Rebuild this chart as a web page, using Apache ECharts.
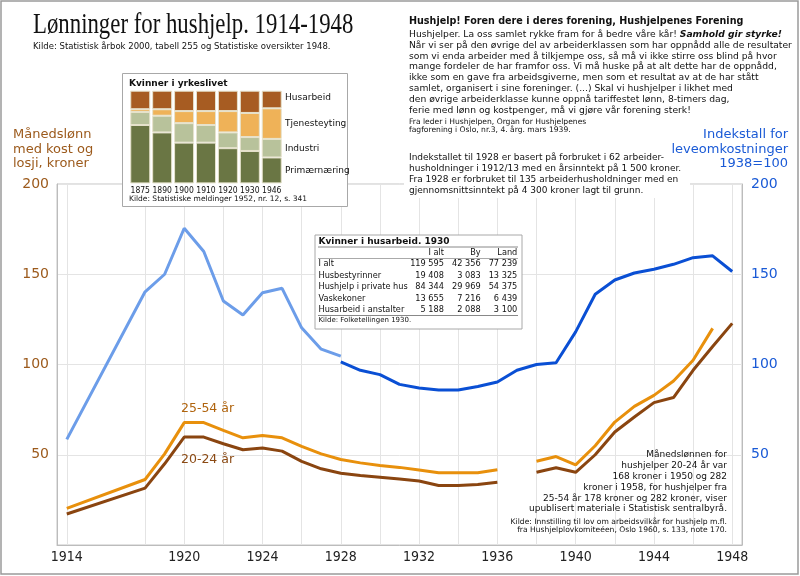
<!DOCTYPE html>
<html><head><meta charset="utf-8">
<script src="https://cdn.jsdelivr.net/npm/echarts@6/dist/echarts.min.js"></script>
<style>html,body{margin:0;padding:0;background:#fff}#c{width:800px;height:576px}</style>
</head><body><div id="c"></div>
<script>
// ---- Data ----
const idxYearsA = [1914,1918,1919,1920,1921,1922,1923,1924,1925,1926,1927,1928];
const idxValsA  = [58.5,140.3,150,175.5,162.6,135.2,127.4,139.8,142.2,120.3,108.5,104.6];
const idxYearsB = [1928,1929,1930,1931,1932,1933,1934,1935,1936,1937,1938,1939,1940,1941,1942,1943,1944,1945,1946,1947,1948];
const idxValsB  = [101.5,96.8,94.4,89,87,85.9,85.9,87.8,90.3,96.8,100,101,118.1,138.9,146.8,150.7,152.8,155.5,159.2,160.2,151.5];
const wageYears = [1914,1918,1919,1920,1921,1922,1923,1924,1925,1926,1927,1928,1929,1930,1931,1932,1933,1934,1935,1936,1937,1938,1939,1940,1941,1942,1943,1944,1945,1946,1947,1948];
const wage2554  = [20.3,36.3,50.5,67.8,67.8,63.5,59.4,60.7,59.4,54.6,50.5,47.4,45.5,44,43,41.5,40,40,40,41.7,null,46.4,49,44.4,55,68.1,76.8,82.9,90.9,102.4,120,null];
const wage2024  = [17.2,31.5,45,59.8,59.8,56.1,52.8,53.7,52,46.3,42.2,39.8,38.5,37.5,36.5,35.5,33,33,33.5,34.8,null,40.3,42.8,40.3,50,62.6,70.9,78.9,81.7,96.8,110,122.8];
const xLabelYears = [1914,1920,1924,1928,1932,1936,1940,1944,1948];
const xGridYears  = [1914,1918,1920,1922,1924,1926,1928,1930,1932,1934,1936,1938,1940,1942,1944,1946,1948];

const workYears = ['1875','1890','1900','1910','1920','1930','1946'];
const primaer   = [63,55,44,44,38,35,28];
const industri  = [14,18,21,19,17,15,20];
const tjeneste  = [3,7,13,15,23,26,33];
const husarbeid = [20,20,22,22,22,24,19];
const workCats  = ['Husarbeid','Tjenesteyting','Industri','Primærnæring'];

const tableHead = ['I alt','By','Land'];
const tableRows = [
  ['I alt',119595,42356,77239],
  ['Husbestyrinner',19408,3083,13325],
  ['Hushjelp i private hus',84344,29969,54375],
  ['Vaskekoner',13655,7216,6439],
  ['Husarbeid i anstalter',5188,2088,3100]
];

const pairs = (xs, vs) => xs.map((x,i)=>[x, vs[i]]);
const fmt = n => String(n).replace(/\B(?=(\d{3})+(?!\d))/g, ' ');

const BROWN_T = '#9c5a1c', BLUE_T = '#1a5ad6';
const SANS = '"DejaVu Sans"';

function T(x, y, text, font, fill, align, z, sx) {
  return { type:'text', z: z||12, x, y, scaleX: sx||1, style:{ x:0, y:0, text, font, fill: fill||'#111',
    align: align||'left', textAlign: align||'left', verticalAlign:'middle', textVerticalAlign:'middle' } };
}
function L(x1,y1,x2,y2,color,z){ return {type:'line', z:z||12, shape:{x1,y1,x2,y2}, style:{stroke:color||'#999', lineWidth:1}}; }

const g = [];
g.push({type:'rect', z:1, shape:{x:1,y:1,width:797,height:573}, style:{fill:'none', stroke:'#9a9a9a', lineWidth:1.5}});
g.push(T(33, 25, 'Lønninger for hushjelp. 1914-1948', '30px "Liberation Serif"', '#111', 'left', 12, 0.76));
g.push(T(33, 47, 'Kilde: Statistisk årbok 2000, tabell 255 og Statistiske oversikter 1948.', '8.5px '+SANS, '#111'));
g.push(T(409, 21.5, 'Hushjelp! Foren dere i deres forening, Hushjelpenes Forening', 'bold 9.6px '+SANS, '#111'));
g.push({type:'text', z:12, style:{x:409, y:34.3, text:'{n|Hushjelper. La oss samlet rykke fram for å bedre våre kår! }{b|Samhold gir styrke!}',
  verticalAlign:'middle', textVerticalAlign:'middle', rich:{ n:{font:'9.2px '+SANS, fill:'#111'}, b:{font:'italic bold 9.2px '+SANS, fill:'#111'} } }});
const quote = [
 'Når vi ser på den øvrige del av arbeiderklassen som har oppnådd alle de resultater',
 'som vi enda arbeider med å tilkjempe oss, så må vi ikke stirre oss blind på hvor',
 'mange fordeler de har framfor oss. Vi må huske på at alt dette har de oppnådd,',
 'ikke som en gave fra arbeidsgiverne, men som et resultat av at de har stått',
 'samlet, organisert i sine foreninger. (...) Skal vi hushjelper i likhet med',
 'den øvrige arbeiderklasse kunne oppnå tariffestet lønn, 8-timers dag,',
 'ferie med lønn og kostpenger, må vi gjøre vår forening sterk!'
];
quote.forEach((s,i)=>g.push(T(409, 45.5+i*10.8, s, '9.2px '+SANS)));
g.push(T(409, 121.7, 'Fra leder i Hushjelpen, Organ for Hushjelpenes', '7.6px '+SANS));
g.push(T(409, 130.5, 'fagforening i Oslo, nr.3, 4. årg. mars 1939.', '7.6px '+SANS));
g.push({type:'rect', z:11, shape:{x:404,y:150,width:286,height:48}, style:{fill:'#fff'}});
const idxNote = [
 'Indekstallet til 1928 er basert på forbruket i 62 arbeider-',
 'husholdninger i 1912/13 med en årsinntekt på 1 500 kroner.',
 'Fra 1928 er forbruket til 135 arbeiderhusholdninger med en',
 'gjennomsnittsinntekt på 4 300 kroner lagt til grunn.'
];
idxNote.forEach((s,i)=>g.push(T(409, 158+i*11, s, '9px '+SANS)));
['Indekstall for','leveomkostninger','1938=100'].forEach((s,i)=>g.push(T(788, 135+i*14.3, s, '13px '+SANS, BLUE_T, 'right')));
['Månedslønn','med kost og','losji, kroner'].forEach((s,i)=>g.push(T(13, 135+i*14.3, s, '13px '+SANS, BROWN_T, 'left')));
g.push(T(181, 409, '25-54 år', '12.5px '+SANS, '#b0640e'));
g.push(T(181, 460, '20-24 år', '12.5px '+SANS, '#8b4a14'));
const note2 = ['Månedslønnen for','hushjelper 20-24 år var','168 kroner i 1950 og 282','kroner i 1958, for hushjelper fra','25-54 år 178 kroner og 282 kroner, viser','upublisert materiale i Statistisk sentralbyrå.'];
note2.forEach((s,i)=>g.push(T(727, 455+i*10.8, s, '9px '+SANS, '#111', 'right')));
g.push(T(727, 521.7, 'Kilde: Innstilling til lov om arbeidsvilkår for hushjelp m.fl.', '7.6px '+SANS, '#111', 'right'));
g.push(T(727, 530.5, 'fra Hushjelplovkomiteéen, Oslo 1960, s. 133, note 170.', '7.6px '+SANS, '#111', 'right'));
g.push({type:'rect', z:10, shape:{x:122.5,y:73.5,width:225,height:133}, style:{fill:'#fff', stroke:'#a8a8a8', lineWidth:1}});
g.push(T(129, 83.5, 'Kvinner i yrkeslivet', 'bold 9px '+SANS));
[97.7,123.3,149,171].forEach((y,i)=>g.push(T(285, y, workCats[i], '9px '+SANS)));
g.push(T(129, 199.5, 'Kilde: Statistiske meldinger 1952, nr. 12, s. 341', '7.5px '+SANS));
g.push({type:'rect', z:10, shape:{x:315,y:235,width:207,height:94}, style:{fill:'#fff', stroke:'#a8a8a8', lineWidth:1}});
g.push(T(318.5, 242, 'Kvinner i husarbeid. 1930', 'bold 9px '+SANS));
g.push(L(318,247,518,247,'#888'));
const colX = [444,480.7,517.3];
const TF = '8.2px '+SANS;
tableHead.forEach((h,i)=>g.push(T(colX[i], 253.3, h, TF, '#111', 'right')));
g.push(L(318,258.5,518,258.5,'#aaa'));
tableRows.forEach((r,j)=>{
  const y = 264 + j*11.5;
  g.push(T(318.5, y, r[0], TF));
  for (let i=1;i<4;i++) g.push(T(colX[i-1], y, fmt(r[i]), TF, '#111', 'right'));
});
g.push(L(318,315.5,518,315.5,'#888'));
g.push(T(318.5, 320.5, 'Kilde: Folketellingen 1930.', '7px '+SANS));

const chart = echarts.init(document.getElementById('c'), null, {renderer:'canvas'});
const barItem = c => ({color:c, borderColor:'#e6e2cc', borderWidth:1});
chart.setOption({
  animation:false,
  backgroundColor:'#fff',
  textStyle:{fontFamily:'DejaVu Sans'},
  grid:[
    {left:57, right:58, top:184, bottom:31, show:true, borderColor:'#c4c4c4', borderWidth:1, backgroundColor:'transparent'},
    {left:129.3, top:90.7, width:153.4, height:92.7, z:30}
  ],
  xAxis:[
    {type:'value', gridIndex:0, min:1913.5, max:1948.5,
     axisLine:{show:true, lineStyle:{color:'#bcbcbc'}},
     axisTick:{show:false, customValues:xGridYears},
     axisLabel:{customValues:xLabelYears, formatter:v=>String(v), color:'#222', fontSize:14, fontFamily:'DejaVu Sans Condensed', margin:5},
     splitLine:{show:true, lineStyle:{color:'#e4e4e4', width:1}}},
    {type:'category', gridIndex:1, data:workYears, z:30,
     axisLine:{show:false}, axisTick:{show:false},
     axisLabel:{interval:0, color:'#111', fontSize:8.5, margin:3, fontFamily:'DejaVu Sans Condensed'}}
  ],
  yAxis:[
    {type:'value', gridIndex:0, min:0, max:200, interval:50, position:'left',
     axisLine:{show:true, lineStyle:{color:'#bcbcbc'}}, axisTick:{show:false},
     axisLabel:{color:BROWN_T, fontSize:14, margin:8, showMinLabel:false},
     splitLine:{show:true, lineStyle:{color:'#e4e4e4'}}},
    {type:'value', gridIndex:0, min:0, max:200, interval:50, position:'right',
     axisLine:{show:true, lineStyle:{color:'#bcbcbc'}}, axisTick:{show:false},
     axisLabel:{color:BLUE_T, fontSize:14, margin:9, showMinLabel:false},
     splitLine:{show:false}},
    {type:'value', gridIndex:1, min:0, max:100, show:false}
  ],
  series:[
    {type:'line', xAxisIndex:0, yAxisIndex:1, data:pairs(idxYearsA, idxValsA), symbol:'none', z:3,
     lineStyle:{color:'#6c9de9', width:3}},
    {type:'line', xAxisIndex:0, yAxisIndex:1, data:pairs(idxYearsB, idxValsB), symbol:'none', z:3,
     lineStyle:{color:'#0a4fd4', width:3}},
    {type:'line', xAxisIndex:0, yAxisIndex:0, data:pairs(wageYears, wage2554), symbol:'none', connectNulls:false, z:3,
     lineStyle:{color:'#e8900c', width:3}},
    {type:'line', xAxisIndex:0, yAxisIndex:0, data:pairs(wageYears, wage2024), symbol:'none', connectNulls:false, z:3,
     lineStyle:{color:'#8a4510', width:3}},
    {type:'bar', xAxisIndex:1, yAxisIndex:2, stack:'w', barWidth:20, z:30, data:primaer, itemStyle:barItem('#6a7644')},
    {type:'bar', xAxisIndex:1, yAxisIndex:2, stack:'w', barWidth:20, z:30, data:industri, itemStyle:barItem('#b8c29b')},
    {type:'bar', xAxisIndex:1, yAxisIndex:2, stack:'w', barWidth:20, z:30, data:tjeneste, itemStyle:barItem('#efb258')},
    {type:'bar', xAxisIndex:1, yAxisIndex:2, stack:'w', barWidth:20, z:30, data:husarbeid, itemStyle:barItem('#a75c22')}
  ],
  graphic:{elements:g}
});
</script></body></html>
